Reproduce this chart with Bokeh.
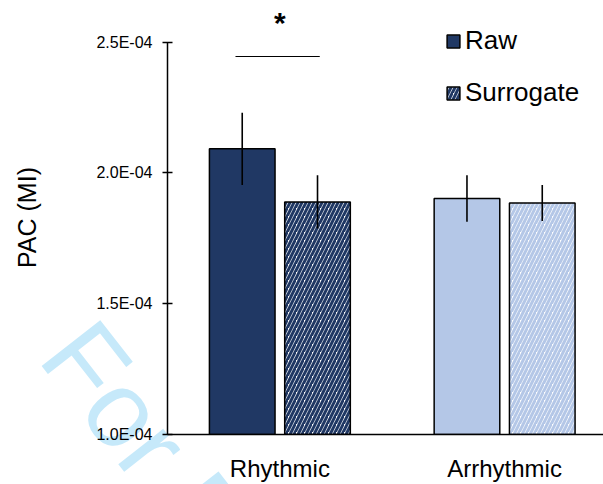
from bokeh.plotting import figure
from bokeh.models import (Range1d, FixedTicker, CustomJSTickFormatter, Legend,
                          LegendItem, ColumnDataSource)
from bokeh.embed import file_html
from bokeh.resources import INLINE
from bokeh.core.properties import value

# ---------------- data ----------------
categories = ["Rhythmic", "Arrhythmic"]
raw_mean = [2.092e-4, 1.902e-4]
raw_err = [1.38e-5, 0.89e-5]
sur_mean = [1.889e-4, 1.885e-4]
sur_err = [1.02e-5, 0.69e-5]
y_ticks = [1.0e-4, 1.5e-4, 2.0e-4, 2.5e-4]
y_label = "PAC (MI)"
series_names = ["Raw", "Surrogate"]
sig_group = 0          # index of the category with the significant difference
sig_text = "*"
sig_line_y = 2.445e-4
sig_text_y = 2.575e-4
watermark = "For Peer Review"

# ---------------- styling ----------------
group_colors = ["#203864", "#b4c7e7"]
FONT = "Liberation Sans"
offset = 0.1675
bar_w = 0.292

centers = [i + 0.5 for i in range(len(categories))]
raw_x = [c - offset for c in centers]
sur_x = [c + offset for c in centers]

raw_src = ColumnDataSource(dict(x=raw_x, top=raw_mean, color=group_colors,
                                lo=[m - e for m, e in zip(raw_mean, raw_err)],
                                hi=[m + e for m, e in zip(raw_mean, raw_err)]))
sur_src = ColumnDataSource(dict(x=sur_x, top=sur_mean, color=group_colors,
                                lo=[m - e for m, e in zip(sur_mean, sur_err)],
                                hi=[m + e for m, e in zip(sur_mean, sur_err)]))

p = figure(width=603, height=484, output_backend="svg", toolbar_location=None,
           x_range=Range1d(0, 1.94), y_range=Range1d(1.0e-4, 2.659e-4),
           min_border_left=167, min_border_right=0, min_border_top=0,
           min_border_bottom=48)
p.outline_line_color = None
p.grid.visible = False
p.background_fill_color = "white"

base = y_ticks[0]
r_raw = p.vbar(x="x", top="top", bottom=base, width=bar_w, source=raw_src,
               fill_color="color", line_color="black", line_width=1.5)
r_sur = p.vbar(x="x", top="top", bottom=base, width=bar_w, source=sur_src,
               fill_color="white", hatch_pattern="/", hatch_color="color",
               hatch_scale=8, hatch_weight=3,
               line_color="black", line_width=1.5)

p.segment(x0="x", x1="x", y0="lo", y1="hi", source=raw_src, line_color="black", line_width=1.6)
p.segment(x0="x", x1="x", y0="lo", y1="hi", source=sur_src, line_color="black", line_width=1.6)

# significance marker
p.segment(x0=[raw_x[sig_group] - 0.03], x1=[sur_x[sig_group] + 0.01],
          y0=[sig_line_y], y1=[sig_line_y], line_color="black", line_width=1.2)
p.text(x=[centers[sig_group]], y=[sig_text_y], text=[sig_text],
       text_font=value(FONT), text_font_size="30px", text_font_style="bold",
       text_align="center", text_baseline="alphabetic", text_color="black")

# watermark: a text glyph anchored at the frame's lower-left corner and shifted
# in screen pixels; drawn at annotation level so it is not clipped to the frame
p.text(x=[0.01], y=[1.2664e-4], text=[watermark], x_offset=-104, y_offset=-29,
       angle=-52, angle_units="deg", text_font=value(FONT), text_font_size="108px",
       text_color="#c6e9fa", text_align="left", text_baseline="alphabetic",
       level="annotation")

# axes (drawn at overlay level so their labels sit above the watermark)
yax = p.yaxis[0]
yax.level = "overlay"
yax.ticker = FixedTicker(ticks=y_ticks)
yax.formatter = CustomJSTickFormatter(code="""
const s = tick.toExponential(1).toUpperCase();
return s.replace(/E([+-])(\\d)$/, (m, sg, d) => 'E' + sg + '0' + d);
""")
yax.bounds = (y_ticks[0], y_ticks[-1])
yax.axis_line_width = 1.5
yax.major_tick_line_width = 1.5
yax.major_tick_in = 5
yax.major_tick_out = 5
yax.minor_tick_line_color = None
yax.major_label_text_font = FONT
yax.major_label_text_font_size = "16px"
yax.major_label_text_color = "black"
yax.major_label_standoff = 10
yax.axis_label = y_label
yax.axis_label_text_font = FONT
yax.axis_label_text_font_size = "25px"
yax.axis_label_text_font_style = "normal"
yax.axis_label_text_color = "black"
yax.axis_label_standoff = 52

xax = p.xaxis[0]
xax.level = "overlay"
xax.ticker = FixedTicker(ticks=centers)
xax.major_label_overrides = {c: n for c, n in zip(centers, categories)}
xax.axis_line_width = 1.5
xax.major_tick_line_color = None
xax.minor_tick_line_color = None
xax.major_label_text_font = FONT
xax.major_label_text_font_size = "24px"
xax.major_label_text_color = "black"
xax.major_label_standoff = 14

legend = Legend(items=[LegendItem(label=series_names[0], renderers=[r_raw], index=0),
                       LegendItem(label=series_names[1], renderers=[r_sur], index=0)],
                location=(278, 326), padding=0, margin=0, spacing=21,
                glyph_width=16, glyph_height=16, label_standoff=4,
                label_text_font=FONT, label_text_font_size="26px",
                label_text_color="black", border_line_color=None,
                background_fill_alpha=0)
p.add_layout(legend)

open("out.html", "w").write(file_html(p, INLINE))
